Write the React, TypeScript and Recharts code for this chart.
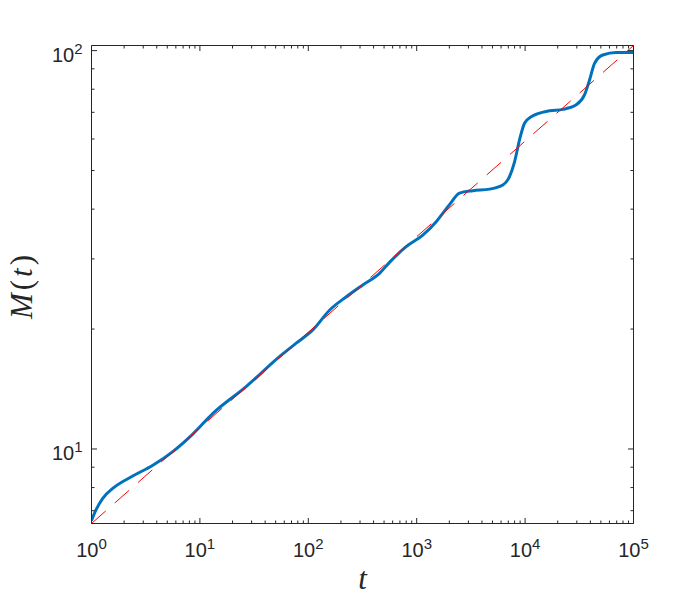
import React from 'react';
import { LineChart, Line, XAxis, YAxis } from 'recharts';

// M(t)
const tValues = [
  1, 1.1, 1.27, 1.57, 2.4, 3.68, 5.62, 8.6, 13.2, 26.7, 54.2, 77.3, 110, 157, 224, 318, 454, 561, 800,
  1138, 1513, 2000, 2483, 3296, 4695, 6227, 7180, 7980, 8880, 9880, 11380, 16800, 22300, 29600, 35300,
  39300, 43700, 52100, 69200, 100000,
];
const mValues = [
  6.61, 7.03, 7.52, 7.96, 8.55, 9.1, 9.85, 10.9, 12.29, 14.34, 17.05, 18.43, 19.9, 22.3, 24.1, 25.8, 27.6,
  29.4, 32.2, 34.4, 37.2, 41.0, 43.9, 44.5, 44.9, 46.0, 48.3, 52.5, 59.7, 65.7, 68.2, 70.6, 71.2, 73.1,
  77.4, 84.4, 92.9, 97.5, 98.9, 98.9,
];

// red dashed power-law reference
const refT = [1, 100000];
const refM = [6.5, 103];

const decades = [1, 10, 100, 1000, 10000];
const mantissas = [1, 2, 3, 4, 5, 6, 7, 8, 9];
const xTicks = decades.flatMap(d => mantissas.map(k => k * d)).concat([100000]);
const yTicks = [7, 8, 9, 10, 20, 30, 40, 50, 60, 70, 80, 90, 100];

const curve = tValues.map((t, i) => ({ t, m: mValues[i] }));
const refLine = refT.map((t, i) => ({ t, m: refM[i] }));

const AXIS = '#262626';
const SANS = '"Liberation Sans", Arial, Helvetica, sans-serif';
const SERIF = '"Liberation Serif", "Times New Roman", serif';
const MAJOR = 5.5;
const MINOR = 3;

const isDecade = (v: number) => Math.abs(Math.log10(v) - Math.round(Math.log10(v))) < 1e-6;

const Power = ({ x, y, exp, anchor }: { x: number; y: number; exp: number; anchor: 'middle' | 'end' }) => (
  <text x={x} y={y} textAnchor={anchor} fill={AXIS} fontFamily={SANS} fontSize={20}>
    10<tspan dy={-8.5} fontSize={15}>{exp}</tspan>
  </text>
);

const BottomTick = (props: any) => {
  const { x, y, payload } = props;
  const major = isDecade(payload.value);
  return (
    <g>
      <line x1={x} x2={x} y1={y} y2={y - (major ? MAJOR : MINOR)} stroke={AXIS} />
      {major && <Power x={x} y={y + 33.5} exp={Math.round(Math.log10(payload.value))} anchor="middle" />}
    </g>
  );
};

const TopTick = (props: any) => {
  const { x, y, payload } = props;
  const major = isDecade(payload.value);
  return <line x1={x} x2={x} y1={y} y2={y + (major ? MAJOR : MINOR)} stroke={AXIS} />;
};

const LeftTick = (props: any) => {
  const { x, y, payload } = props;
  const major = isDecade(payload.value);
  return (
    <g>
      <line x1={x} x2={x + (major ? MAJOR : MINOR)} y1={y} y2={y} stroke={AXIS} />
      {major && <Power x={x - 9} y={y + 11.5} exp={Math.round(Math.log10(payload.value))} anchor="end" />}
    </g>
  );
};

const RightTick = (props: any) => {
  const { x, y, payload } = props;
  const major = isDecade(payload.value);
  return <line x1={x} x2={x - (major ? MAJOR : MINOR)} y1={y} y2={y} stroke={AXIS} />;
};

const axisLine = { stroke: AXIS, strokeWidth: 1 };

const XTitle = () => (
  <text x={362.5} y={589} textAnchor="middle" fill={AXIS} fontFamily={SERIF} fontSize={31} fontStyle="italic">
    t
  </text>
);

const YTitle = () => (
  <text
    x={32}
    y={285.5}
    transform="rotate(-90 32 285.5)"
    textAnchor="middle"
    fill={AXIS}
    fontFamily={SERIF}
    fontSize={31}
    letterSpacing={3}
  >
    <tspan fontStyle="italic">M</tspan>
    <tspan>(</tspan>
    <tspan fontStyle="italic">t</tspan>
    <tspan>)</tspan>
  </text>
);

export default function App() {
  return (
    <div style={{ position: 'absolute', left: 0, top: 0, width: 700, height: 600, background: '#fff' }}>
      <LineChart width={700} height={600} margin={{ top: 44.5, right: 65.5, bottom: 46.5, left: 31.5 }}>
        <XAxis
          xAxisId="b"
          dataKey="t"
          type="number"
          scale="log"
          domain={[1, 100000]}
          allowDataOverflow
          ticks={xTicks}
          interval={0}
          height={30}
          tickSize={0}
          tickMargin={0}
          tickLine={false}
          axisLine={axisLine}
          tick={<BottomTick />}
          label={<XTitle />}
        />
        <XAxis
          xAxisId="top"
          orientation="top"
          dataKey="t"
          type="number"
          scale="log"
          domain={[1, 100000]}
          allowDataOverflow
          ticks={xTicks}
          interval={0}
          height={1}
          tickSize={0}
          tickMargin={0}
          tickLine={false}
          axisLine={axisLine}
          tick={<TopTick />}
        />
        <YAxis
          yAxisId="l"
          dataKey="m"
          type="number"
          scale="log"
          domain={[6.5, 103]}
          allowDataOverflow
          ticks={yTicks}
          interval={0}
          width={60}
          tickSize={0}
          tickMargin={0}
          tickLine={false}
          axisLine={axisLine}
          tick={<LeftTick />}
          label={<YTitle />}
        />
        <YAxis
          yAxisId="r"
          orientation="right"
          dataKey="m"
          type="number"
          scale="log"
          domain={[6.5, 103]}
          allowDataOverflow
          ticks={yTicks}
          interval={0}
          width={1}
          tickSize={0}
          tickMargin={0}
          tickLine={false}
          axisLine={axisLine}
          tick={<RightTick />}
        />
        <Line
          xAxisId="b"
          yAxisId="l"
          data={curve}
          dataKey="m"
          type="monotone"
          stroke="#0072BD"
          strokeWidth={3}
          dot={false}
          activeDot={false}
          isAnimationActive={false}
        />
        <Line
          xAxisId="b"
          yAxisId="l"
          data={refLine}
          dataKey="m"
          type="linear"
          stroke="#FF0000"
          strokeWidth={1}
          strokeDasharray="19 12"
          dot={false}
          activeDot={false}
          isAnimationActive={false}
        />
      </LineChart>
    </div>
  );
}
